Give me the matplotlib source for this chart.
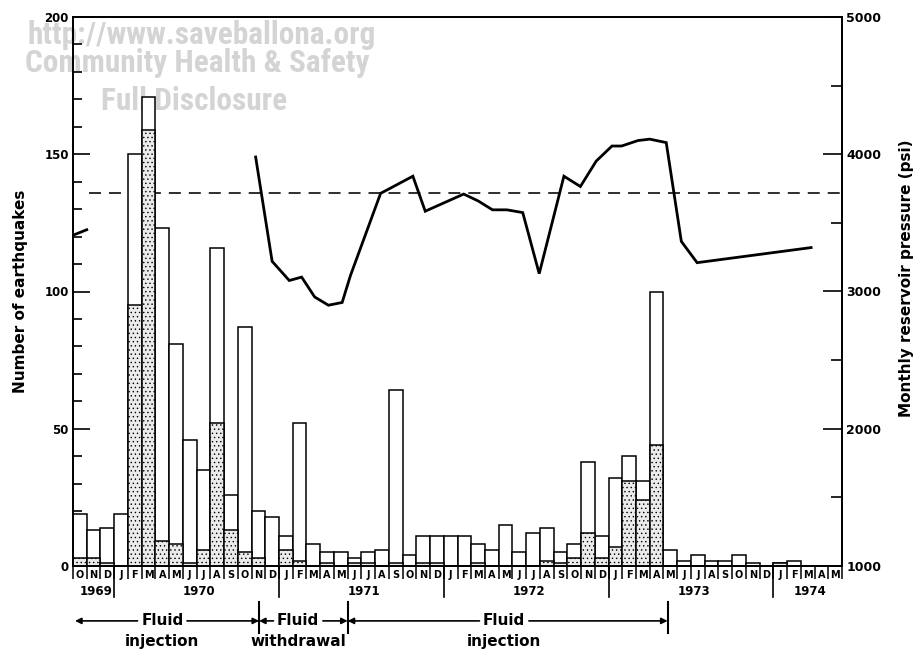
import matplotlib
matplotlib.use("Agg")
import matplotlib.pyplot as plt
import matplotlib.transforms as mtransforms
from matplotlib import font_manager
import numpy as np

# ---------------- data ----------------
month_letters = (["O", "N", "D"]
                 + ["J", "F", "M", "A", "M", "J", "J", "A", "S", "O", "N", "D"] * 4
                 + ["J", "F", "M", "A", "M"])
year_labels = ["1969", "1970", "1971", "1972", "1973", "1974"]
year_first_month = [0, 3, 15, 27, 39, 51]   # month index where each year starts

total_quakes = [19, 13, 14, 19, 150, 171, 123, 81, 46, 35, 116, 26, 87, 20,
                18, 11, 52, 8, 5, 5, 3, 5, 6, 64, 4, 11, 11, 11, 11, 8,
                6, 15, 5, 12, 14, 5, 8, 38, 11, 32, 40, 31, 100, 6, 2,
                4, 2, 2, 4, 1, 0, 1, 2, 0, 0, 0]
stippled_quakes = [3, 3, 1, 0, 95, 159, 9, 8, 1, 6, 52, 13, 5, 3,
                   0, 6, 2, 0, 1, 0, 1, 1, 0, 1, 0, 1, 1, 0, 0, 1,
                   0, 0, 0, 0, 2, 1, 3, 12, 3, 7, 31, 24, 44, 0, 0,
                   0, 0, 0, 0, 0, 0, 1, 0, 0, 0, 0]

pressure_month = [13.3, 14.5, 15.75, 16.65, 17.6, 18.6, 19.6, 20.2, 22.4,
                  24.75, 25.65, 28.45, 29.5, 30.55, 31.6, 32.75, 33.95,
                  35.75, 36.95, 38.1, 39.25, 39.95, 41.15, 42.0, 43.2,
                  44.3, 45.45, 53.75]
pressure_psi = [3980, 3220, 3080, 3105, 2960, 2900, 2920, 3115, 3715,
                3840, 3585, 3710, 3660, 3595, 3595, 3575, 3130,
                3840, 3765, 3950, 4060, 4060, 4100, 4110, 4085,
                3365, 3210, 3320]
early_pressure_month = [0.0, 1.0]
early_pressure_psi = [3410, 3450]
reference_psi = 3715
reference_start_month = 1.2

phase_bounds = [0.15, 13.55, 20.0, 43.3]
phase_top_text = ["Fluid", "Fluid", "Fluid"]
phase_bottom_text = ["injection", "withdrawal", "injection"]
phase_text_center = [6.5, 16.4, 31.4]

watermark_lines = ["http://www.saveballona.org", "Community Health & Safety",
                   "Full Disclosure"]

# ---------------- style ----------------
plt.rcParams["font.family"] = ["DejaVu Sans"]
plt.rcParams["font.weight"] = "bold"
plt.rcParams["hatch.linewidth"] = 0.5

n_months = len(month_letters)
fig = plt.figure(figsize=(9.16, 6.52), dpi=100)
ax = fig.add_axes([73 / 916, 86 / 652, 769 / 916, 549 / 652])
ax2 = ax.twinx()

# watermark (behind bars)
names = {f.name for f in font_manager.fontManager.ttflist}
wm_family = "DejaVu Sans"
for cand in ["Liberation Sans Narrow", "Roboto Condensed", "Open Sans Condensed",
             "Roboto", "Liberation Sans"]:
    if cand in names:
        wm_family = cand
        break
wm_kw = dict(transform=fig.transFigure, color="#d4d4d4", fontsize=22.5,
             fontweight="bold", family=wm_family, ha="center", va="center",
             zorder=0.5, clip_on=False)
wm_pos = [(202, 35), (197, 63), (194, 101)]
for txt, (px, py) in zip(watermark_lines, wm_pos):
    ax.text(px / 916, 1 - py / 652, txt, **wm_kw)

x_centers = np.arange(n_months) + 0.5
ax.bar(x_centers, total_quakes, width=1.0, facecolor="white",
       edgecolor="black", linewidth=1.1, zorder=2)
ax.bar(x_centers, stippled_quakes, width=1.0, facecolor="#ebebeb",
       edgecolor="black", hatch="....", linewidth=1.1, zorder=3)

# reference pressure (dashed), drawn behind bars using the pressure scale
ax.plot([reference_start_month, n_months], [reference_psi, reference_psi],
        transform=ax2.transData, color="black", lw=1.15,
        dashes=(7.5, 5), zorder=1)

# pressure curve
ax2.plot(pressure_month, pressure_psi, color="black", lw=2.0,
         solid_joinstyle="miter")
ax2.plot(early_pressure_month, early_pressure_psi, color="black", lw=2.0)

# axes limits and ticks
ax.set_xlim(0, n_months)
ax.set_ylim(0, 200)
ax2.set_ylim(1000, 5000)

ax.set_yticks(np.arange(0, 201, 50))
ax.set_yticks(np.arange(0, 201, 10), minor=True)
ax.tick_params(axis="y", which="major", direction="in", length=12, width=1.2,
               labelsize=8.5, pad=3)
ax.tick_params(axis="y", which="minor", direction="in", length=6.5, width=1.2)

ax2.set_yticks(np.arange(1000, 5001, 1000))
ax2.set_yticks(np.arange(1500, 5000, 1000), minor=True)
ax2.tick_params(axis="y", which="major", direction="in", length=13.5, width=1.2,
                labelsize=9, pad=3)
ax2.tick_params(axis="y", which="minor", direction="in", length=8, width=1.2)

ax.set_xticks(np.arange(n_months + 1))
ax.set_xticklabels([])
ax.set_xticks(x_centers, minor=True)
ax.set_xticklabels(month_letters, minor=True)
ax.tick_params(axis="x", which="major", direction="out", length=9.5, width=1.1)
ax.tick_params(axis="x", which="minor", length=0, labelsize=7, pad=3)

for a in (ax, ax2):
    for s in a.spines.values():
        s.set_linewidth(1.3)

trans = mtransforms.blended_transform_factory(ax.transData, ax.transAxes)

# year separators and labels
year_ends = year_first_month[1:] + [n_months]
for start in year_first_month[1:]:
    ax.plot([start, start], [0, -0.056], transform=trans, color="black",
            lw=1.2, clip_on=False)
for lab, s, e in zip(year_labels, year_first_month, year_ends):
    ax.text((s + e) / 2 + 0.2, -0.047, lab, transform=trans, ha="center",
            va="center", fontsize=8.5)

# phase annotations
y_arrow = -0.100
for b in phase_bounds[1:]:
    ax.plot([b, b], [-0.066, -0.122], transform=trans, color="black",
            lw=1.5, clip_on=False)
arrow_kw = dict(arrowstyle="-|>", color="black", lw=1.2, mutation_scale=9,
                shrinkA=0, shrinkB=0)
gap = 1.8
for i, c in enumerate(phase_text_center):
    left, right = phase_bounds[i], phase_bounds[i + 1]
    ax.annotate("", xy=(left, y_arrow), xytext=(c - gap, y_arrow),
                xycoords=trans, textcoords=trans, arrowprops=arrow_kw,
                annotation_clip=False)
    ax.annotate("", xy=(right, y_arrow), xytext=(c + gap, y_arrow),
                xycoords=trans, textcoords=trans, arrowprops=arrow_kw,
                annotation_clip=False)
    ax.text(c, y_arrow, phase_top_text[i], transform=trans, ha="center",
            va="center", fontsize=11)
    ax.text(c, -0.137, phase_bottom_text[i], transform=trans, ha="center",
            va="center", fontsize=11)

# axis titles
fig.text(21 / 916, 1 - 291 / 652, "Number of earthquakes", rotation=90,
         ha="center", va="center", fontsize=11)
fig.text(907 / 916, 1 - 278 / 652, "Monthly reservoir pressure (psi)",
         rotation=90, ha="center", va="center", fontsize=11)

fig.savefig("out.png", dpi=100)
